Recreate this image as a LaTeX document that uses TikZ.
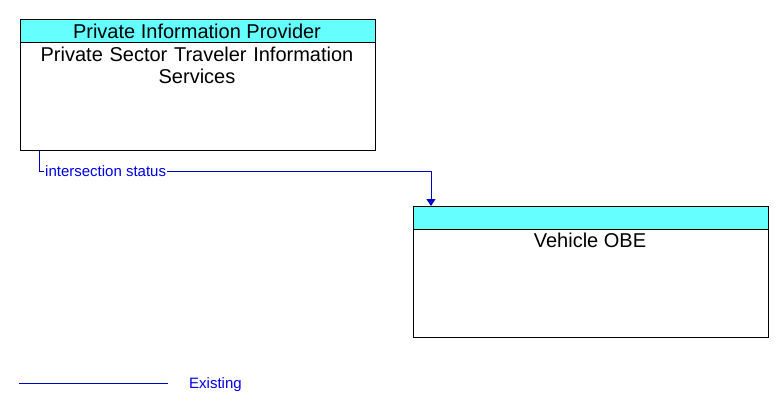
\documentclass[tikz,border=0pt]{standalone}
\usepackage{fontspec}
\setmainfont{Liberation Sans}
\usetikzlibrary{arrows.meta,calc}
\definecolor{hdrcyan}{RGB}{102,255,255}
\definecolor{flowblue}{RGB}{0,0,200}
\definecolor{textblue}{RGB}{0,0,235}
\tikzset{
  box/.style={draw=black, line width=1bp, fill=white, anchor=north west, inner sep=0pt},
  hdr/.style={draw=black, line width=1bp, fill=hdrcyan, anchor=north west, inner sep=0pt},
  bigtext/.style={font=\fontsize{20bp}{22bp}\selectfont, inner sep=0pt, align=center},
  flow/.style={draw=flowblue, line width=1bp, -{Triangle[length=7bp,width=9bp]}},
  flowlabel/.style={font=\fontsize{15bp}{17bp}\selectfont, text=textblue, fill=white, inner sep=1bp},
}
\begin{document}
\begin{tikzpicture}[x=1bp,y=-1bp]
\useasboundingbox (0,0) rectangle (783,412);
% Box 1
\node[box, minimum width=355bp, minimum height=131bp] (ppBox) at (19.5,19) {};
\node[hdr, minimum width=355bp, minimum height=23bp] (ppHdr) at (19.5,19) {};
\node[bigtext, anchor=base] (ppTitle) at (197,38) {Private Information Provider};
\node[bigtext, anchor=north, text width=350bp] (ppName) at (197,46.5) {Private Sector Traveler Information\\Services};
% Box 2
\node[box, minimum width=355bp, minimum height=131bp] (vBox) at (412.5,206) {};
\node[hdr, minimum width=355bp, minimum height=23bp] (vHdr) at (412.5,206) {};
\node[bigtext, anchor=north] (vName) at (590,232.5) {Vehicle OBE};
% Connector
\draw[flow] ($(ppBox.south west)+(19.5,0)$) -- ++(0,20) coordinate (bend) -| ($(vBox.north west)+(18.5,0)$);
\node[flowlabel, anchor=west] (lbl) at ($(bend)+(5,0)$) {intersection status};
% Legend
\coordinate (legA) at (19,383);
\coordinate (legB) at (168,383);
\draw[draw=flowblue, line width=1bp] (legA) -- (legB);
\node[flowlabel, anchor=west, inner sep=0pt] (legText) at (189,384.5) {Existing};
\end{tikzpicture}
\end{document}
